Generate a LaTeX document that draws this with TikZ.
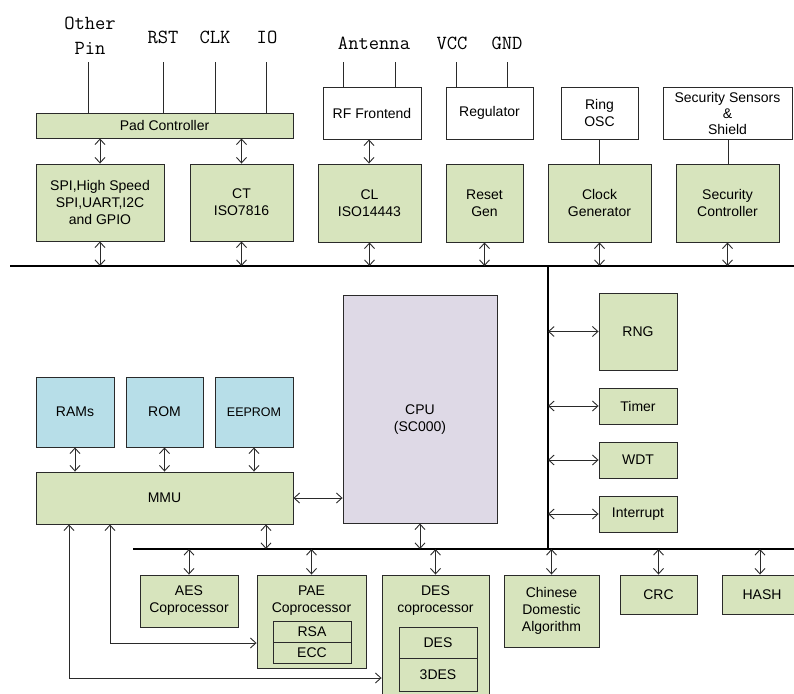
\documentclass[tikz,border=0pt]{standalone}
\usepackage{fontspec}
\setmainfont{Liberation Sans}
\usetikzlibrary{arrows.meta}
\definecolor{gfill}{HTML}{D7E4BD}
\definecolor{bfill}{HTML}{B7DEE8}
\definecolor{pfill}{HTML}{DED9E6}
\definecolor{edge}{HTML}{2A2A2A}
\tikzset{
  x=1pt,y=-1pt,
  box/.style={draw=edge,line width=0.9pt,inner sep=0pt,align=center,
    font=\fontsize{14}{17}\selectfont},
  gbox/.style={box,fill=gfill},
  bbox/.style={box,fill=bfill},
  wbox/.style={box,fill=white},
  lbl/.style={inner sep=0pt,align=center,font=\fontsize{14}{17}\selectfont},
  pin/.style={inner sep=0pt,align=center,font=\fontsize{20}{25}\ttfamily},
  wire/.style={draw=edge,line width=0.9pt},
  biarrow/.style={wire,{Straight Barb[length=5.5pt,width=10pt]}-{Straight Barb[length=5.5pt,width=10pt]}},
  bus/.style={draw=black,line width=2.6pt},
}
\begin{document}
\begin{tikzpicture}
\useasboundingbox (0,0) rectangle (794,693);
\clip (0,0) rectangle (794,693);
\fill[white] (0,0) rectangle (794,693);

% pin labels
\node[pin] (pOther) at (90,36) {Other\\Pin};
\node[pin] (pRST) at (163,37) {RST};
\node[pin] (pCLK) at (215,37) {CLK};
\node[pin] (pIO) at (267,37) {IO};
\node[pin] (pAnt) at (374,43) {Antenna};
\node[pin] (pVCC) at (452,43) {VCC};
\node[pin] (pGND) at (507,43) {GND};

% top row boxes
\node[gbox,minimum width=257,minimum height=25] (pad) at (164.5,125.5) {Pad Controller};
\node[wbox,minimum width=98,minimum height=52] (rf) at (372,113) {RF Frontend};
\node[wbox,minimum width=87,minimum height=52] (reg) at (489.5,113) {Regulator\vphantom{g}};
\node[wbox,minimum width=77,minimum height=52] (ring) at (599.5,113) {Ring\\OSC};
\node[wbox,minimum width=129,minimum height=52,font=\fontsize{14}{16}\selectfont] (sens) at (727.5,113) {Security Sensors\\\&\\Shield};

\node[gbox,minimum width=128,minimum height=77] (spi) at (100,202.5) {SPI,High Speed\\SPI,UART,I2C\\and GPIO};
\node[gbox,minimum width=103,minimum height=77] (ct) at (241.5,202.5) {CT\\ISO7816};
\node[gbox,minimum width=103,minimum height=78] (cl) at (369.5,203) {CL\\ISO14443};
\node[gbox,minimum width=77,minimum height=78] (reset) at (484.5,203) {Reset\\Gen};
\node[gbox,minimum width=103,minimum height=78] (clock) at (599.5,203) {Clock\\Generator};
\node[gbox,minimum width=103,minimum height=78] (sec) at (727.5,203) {Security\\Controller};

% pin wires
\coordinate (wOther) at (88,62);
\coordinate (wRST) at (163,62);
\coordinate (wCLK) at (215,62);
\coordinate (wIO) at (266,62);
\coordinate (wA1) at (343,62);
\coordinate (wA2) at (395,62);
\coordinate (wVCC) at (456,62);
\coordinate (wGND) at (507,62);
\foreach \w in {wOther,wRST,wCLK,wIO} \draw[wire] (\w) -- (\w |- pad.north);
\foreach \w in {wA1,wA2} \draw[wire] (\w) -- (\w |- rf.north);
\foreach \w in {wVCC,wGND} \draw[wire] (\w) -- (\w |- reg.north);

% buses
\coordinate (busL) at (10,266);
\coordinate (busR) at (794,266);
\coordinate (vbT) at (548,266);
\coordinate (vbB) at (548,549);
\coordinate (lbL) at (133,549);
\coordinate (lbR) at (794,549);

% middle boxes
\node[bbox,minimum width=78,minimum height=70] (rams) at (75,412) {RAMs};
\node[bbox,minimum width=77,minimum height=70] (rom) at (164.5,412) {ROM};
\node[bbox,minimum width=78,minimum height=70,font=\fontsize{12.5}{15}\selectfont] (eeprom) at (254,412) {EEPROM};
\node[box,fill=pfill,minimum width=154,minimum height=228] (cpu) at (420,409) {};
\node[lbl] (cpulbl) at (420,420) {CPU\\(SC000)};
\node[gbox,minimum width=257,minimum height=52] (mmu) at (164.5,498) {MMU};

\node[gbox,minimum width=78,minimum height=77] (rng) at (638,331.5) {RNG};
\node[gbox,minimum width=78,minimum height=36] (timer) at (638,406) {Timer};
\node[gbox,minimum width=78,minimum height=36] (wdt) at (638,460) {WDT};
\node[gbox,minimum width=78,minimum height=36] (intr) at (638,514) {Interrupt};

% bottom boxes
\node[gbox,minimum width=98,minimum height=52] (aes) at (189,601) {AES\\Coprocessor};
\node[gbox,minimum width=109,minimum height=93] (pae) at (311.5,621.5) {};
\node[lbl] (paelbl) at (311.5,600.5) {PAE\\Coprocessor};
\node[gbox,minimum width=78,minimum height=21] (rsa) at (312,631.5) {RSA};
\node[gbox,minimum width=78,minimum height=21] (ecc) at (312,652.5) {ECC};
\node[gbox,minimum width=107,minimum height=125] (des) at (435.5,637.5) {};
\node[lbl] (deslbl) at (435.5,600.5) {DES\\coprocessor};
\node[gbox,minimum width=78,minimum height=31] (desin) at (438,642.5) {DES};
\node[gbox,minimum width=78,minimum height=33] (tdes) at (438,674.5) {3DES};
\node[gbox,minimum width=95,minimum height=72] (chn) at (551.5,611) {Chinese\\Domestic\\Algorithm};
\node[gbox,minimum width=77,minimum height=39] (crc) at (658.5,594.5) {CRC};
\node[gbox,minimum width=80,minimum height=39] (hash) at (762,594.5) {HASH};

% bus lines
\draw[bus] (busL) -- (busR);
\draw[bus] (vbT) -- (vbB);
\draw[bus] (lbL) -- (lbR);

% top connections
\draw[biarrow] (spi.north) -- (spi.north |- pad.south);
\draw[biarrow] (ct.north) -- (ct.north |- pad.south);
\coordinate (rfc) at (369,0);
\draw[biarrow] (rfc |- cl.north) -- (rfc |- rf.south);
\coordinate (ringc) at (599,0);
\draw[wire] (ringc |- ring.south) -- (ringc |- clock.north);
\coordinate (sensc) at (728,0);
\draw[wire] (sensc |- sens.south) -- (sensc |- sec.north);

\foreach \b in {spi,ct,cl,reset,clock,sec}
  \draw[biarrow] (\b.south) -- (\b.south |- busL);

% right peripherals
\foreach \b in {rng,timer,wdt,intr}
  \draw[biarrow] (\b.west -| vbT) -- (\b.west);

% memories
\foreach \b in {rams,rom,eeprom}
  \draw[biarrow] (\b.south) -- (\b.south |- mmu.north);
\draw[biarrow] (mmu.east) -- (mmu.east -| cpu.west);

% lower bus
\coordinate (mmub) at (266,549);
\draw[biarrow] (mmub |- mmu.south) -- (mmub);
\draw[biarrow] (cpu.south) -- (cpu.south |- lbL);
\foreach \b in {aes,pae,des,chn,crc}
  \draw[biarrow] (\b.north |- lbL) -- (\b.north);
\coordinate (hashc) at (760,549);
\draw[biarrow] (hashc) -- (hashc |- hash.north);

% MMU feedback paths
\coordinate (fb1) at (110,643);
\coordinate (fb2) at (69,678);
\draw[biarrow] (fb1 |- mmu.south) -- (fb1) -- (fb1 -| pae.west);
\draw[biarrow] (fb2 |- mmu.south) -- (fb2) -- (fb2 -| des.west);
\end{tikzpicture}
\end{document}
